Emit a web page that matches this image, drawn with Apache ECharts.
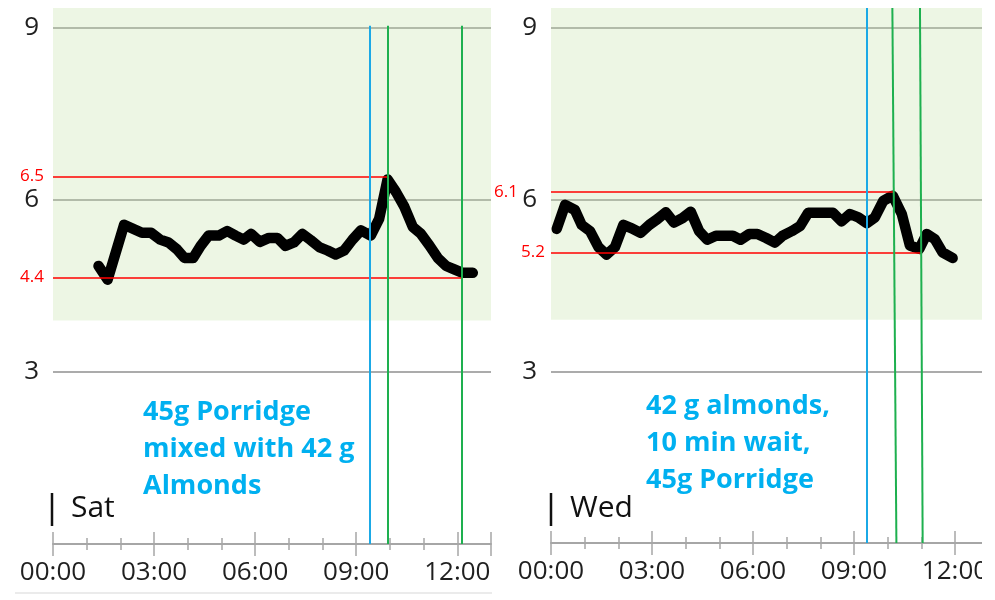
<!DOCTYPE html>
<html>
<head>
<meta charset="utf-8">
<script src="https://cdn.jsdelivr.net/npm/echarts@6/dist/echarts.min.js"></script>
<style>
  html, body { margin: 0; padding: 0; background: #fff; }
  #main { width: 995px; height: 600px; }
</style>
</head>
<body>
<div id="main"></div>
<script>
// glucose readings, time in hours since midnight
var satTime = [1.35, 1.62, 2.11, 2.64, 2.91, 3.18, 3.43, 3.68, 3.90, 4.16, 4.38, 4.62, 4.92, 5.17, 5.42,
  5.66, 5.88, 6.14, 6.41, 6.66, 6.90, 7.15, 7.40, 7.65, 7.90, 8.15, 8.39, 8.64, 8.89, 9.14, 9.43,
  9.68, 9.93, 10.18, 10.43, 10.68, 10.92, 11.17, 11.42, 11.67, 11.91, 12.16, 12.46];
var satGlucose = [4.85, 4.61, 5.57, 5.43, 5.43, 5.31, 5.26, 5.14, 4.99, 4.99, 5.20, 5.38, 5.38, 5.46, 5.38,
  5.31, 5.41, 5.27, 5.34, 5.34, 5.20, 5.26, 5.41, 5.30, 5.18, 5.12, 5.05, 5.12, 5.31, 5.47, 5.38,
  5.67, 6.36, 6.14, 5.88, 5.53, 5.41, 5.21, 4.99, 4.85, 4.79, 4.73, 4.73];

var wedTime = [0.17, 0.42, 0.71, 0.91, 1.16, 1.41, 1.65, 1.90, 2.15, 2.40, 2.66, 2.92, 3.16, 3.41, 3.65,
  3.91, 4.15, 4.40, 4.64, 4.90, 5.14, 5.40, 5.63, 5.89, 6.13, 6.39, 6.65, 6.88, 7.15, 7.40, 7.64,
  7.89, 8.14, 8.38, 8.63, 8.88, 9.13, 9.38, 9.62, 9.87, 10.15, 10.42, 10.66, 10.94, 11.16, 11.40,
  11.63, 11.93];
var wedGlucose = [5.49, 5.91, 5.82, 5.56, 5.45, 5.17, 5.04, 5.17, 5.56, 5.50, 5.42, 5.56, 5.66, 5.78, 5.60,
  5.68, 5.79, 5.45, 5.30, 5.37, 5.37, 5.37, 5.30, 5.40, 5.40, 5.33, 5.25, 5.37, 5.45, 5.54, 5.77,
  5.77, 5.77, 5.77, 5.62, 5.75, 5.69, 5.59, 5.69, 5.98, 6.07, 5.75, 5.20, 5.14, 5.40, 5.31,
  5.08, 4.98];

// red guide lines drawn by hand on the original
var satRefLevel = [6.41, 4.65];
var satRefLabel = ['6.5', '4.4'];
var satRefEnd = [9.93, 12.16];
var wedRefLevel = [6.14, 5.08];
var wedRefLabel = ['6.1', '5.2'];
var wedRefEnd = [10.16, 11.01];

// meal markers: [time at top, time at bottom]
var satEvents = [[9.40, 9.40], [9.93, 9.93], [12.14, 12.14]];
var wedEvents = [[9.38, 9.38], [10.14, 10.26], [10.96, 11.04]];
var eventColors = ['#1BA9E6', '#1EB04F', '#1EB04F'];

var targetLow = 3.9;
var yMax = 9.35;
var yTicks = [3, 6, 9];

var FONT = '"Open Sans", "Noto Sans", sans-serif';
var AXIS_GREY = '#A6A6A6';

var myChart = echarts.init(document.getElementById('main'));

function hhmm(v) {
  if (Math.abs(v % 3) > 0.001) return '';
  var h = Math.round(v);
  return (h < 10 ? '0' + h : '' + h) + ':00';
}

function xAxes(gi, max) {
  var tickStyle = { color: AXIS_GREY, width: 1.5 };
  return [{
    gridIndex: gi, type: 'value', position: 'bottom', min: 0, max: max, interval: 3,
    axisLine: { lineStyle: { color: AXIS_GREY, width: 2 } },
    axisTick: { length: 12, lineStyle: tickStyle },
    minorTick: { show: true, splitNumber: 3, length: 6, lineStyle: tickStyle },
    axisLabel: { margin: 16, fontSize: 26, color: '#1f1f1f', fontFamily: FONT,
      formatter: hhmm, showMaxLabel: false },
    splitLine: { show: false }
  }, {
    // same axis again, ticks pointing up into the plot
    gridIndex: gi, type: 'value', position: 'bottom', offset: 0, min: 0, max: max, interval: 3,
    axisLine: { show: false },
    axisTick: { inside: true, length: 12, lineStyle: tickStyle },
    minorTick: { show: true, splitNumber: 3, length: 6, lineStyle: tickStyle },
    axisLabel: { show: false },
    splitLine: { show: false }
  }];
}

function yAxis(gi) {
  return {
    gridIndex: gi, type: 'value', min: 0, max: yMax, interval: 3,
    axisLine: { show: false }, axisTick: { show: false },
    axisLabel: { margin: 14, fontSize: 26, color: '#1f1f1f', fontFamily: FONT,
      formatter: function (v) { return yTicks.indexOf(v) >= 0 ? '' + v : ''; } },
    splitLine: { show: true, showMinLine: false, showMaxLine: false,
      lineStyle: { color: '#ABABAB', width: 2 } }
  };
}

function panelSeries(gi, times, values, refLevel, refLabel, refEnd, refDist, events, eventTop) {
  var lines = [];
  refLevel.forEach(function (v, i) {
    lines.push([
      { coord: [0, v], lineStyle: { color: '#FF0000', width: 1.5, type: 'solid' },
        label: { show: true, position: 'start', formatter: refLabel[i], distance: refDist[i],
          color: '#FF0000', fontSize: 17, fontFamily: FONT } },
      { coord: [refEnd[i], v] }
    ]);
  });
  events.forEach(function (e, i) {
    lines.push([
      { coord: [e[0], eventTop], lineStyle: { color: eventColors[i], width: 2, type: 'solid' },
        label: { show: false } },
      { coord: [e[1], 0] }
    ]);
  });
  return {
    type: 'line',
    xAxisIndex: gi * 2, yAxisIndex: gi,
    data: times.map(function (t, i) { return [t, values[i]]; }),
    showSymbol: false, symbol: 'none', clip: false,
    lineStyle: { color: '#000', width: 10.5, cap: 'round', join: 'round' },
    markArea: {
      silent: true,
      itemStyle: { color: 'rgba(196, 224, 164, 0.3)' },
      data: [[{ yAxis: targetLow }, { yAxis: yMax }]]
    },
    markLine: {
      silent: true, symbol: ['none', 'none'], animation: false,
      lineStyle: { type: 'solid' },
      label: { color: '#FF0000', fontSize: 17, fontFamily: FONT },
      data: lines
    }
  };
}

function dayTag(x, y, text) {
  return [
    { type: 'line', shape: { x1: x, y1: y - 15, x2: x, y2: y + 18 }, style: { stroke: '#111', lineWidth: 2.5 } },
    { type: 'text', x: x + 19, y: y, style: { text: text, font: '30px ' + FONT, fill: '#111',
      textVerticalAlign: 'middle' } }
  ];
}

function note(x, y, text) {
  return { type: 'text', x: x, y: y, style: { text: text, font: 'bold 27px ' + FONT, fill: '#00B0F0',
    lineHeight: 37, textVerticalAlign: 'top' } };
}

option = {
  backgroundColor: '#fff',
  animation: false,
  grid: [
    { left: 53, top: 8, width: 438, height: 536 },
    { left: 551, top: 8, width: 439, height: 535 }
  ],
  xAxis: xAxes(0, 13).concat(xAxes(1, 13.04)),
  yAxis: [yAxis(0), yAxis(1)],
  series: [
    panelSeries(0, satTime, satGlucose, satRefLevel, satRefLabel, satRefEnd, [9, 9], satEvents, 9.04),
    panelSeries(1, wedTime, wedGlucose, wedRefLevel, wedRefLabel, wedRefEnd, [33, 6], wedEvents, yMax)
  ],
  graphic: [].concat(
    dayTag(52, 508, 'Sat'),
    dayTag(551, 508, 'Wed'),
    [
      note(143, 394, '45g Porridge\nmixed with 42 g\nAlmonds'),
      note(646, 388, '42 g almonds,\n10 min wait,\n45g Porridge'),
      { type: 'line', shape: { x1: 15, y1: 593, x2: 492, y2: 593 }, style: { stroke: '#E4E4E4', lineWidth: 1.5 } },
      { type: 'rect', z: 100, shape: { x: 982, y: 0, width: 13, height: 600 }, style: { fill: '#fff' } }
    ]
  )
};

myChart.setOption(option);
</script>
</body>
</html>
